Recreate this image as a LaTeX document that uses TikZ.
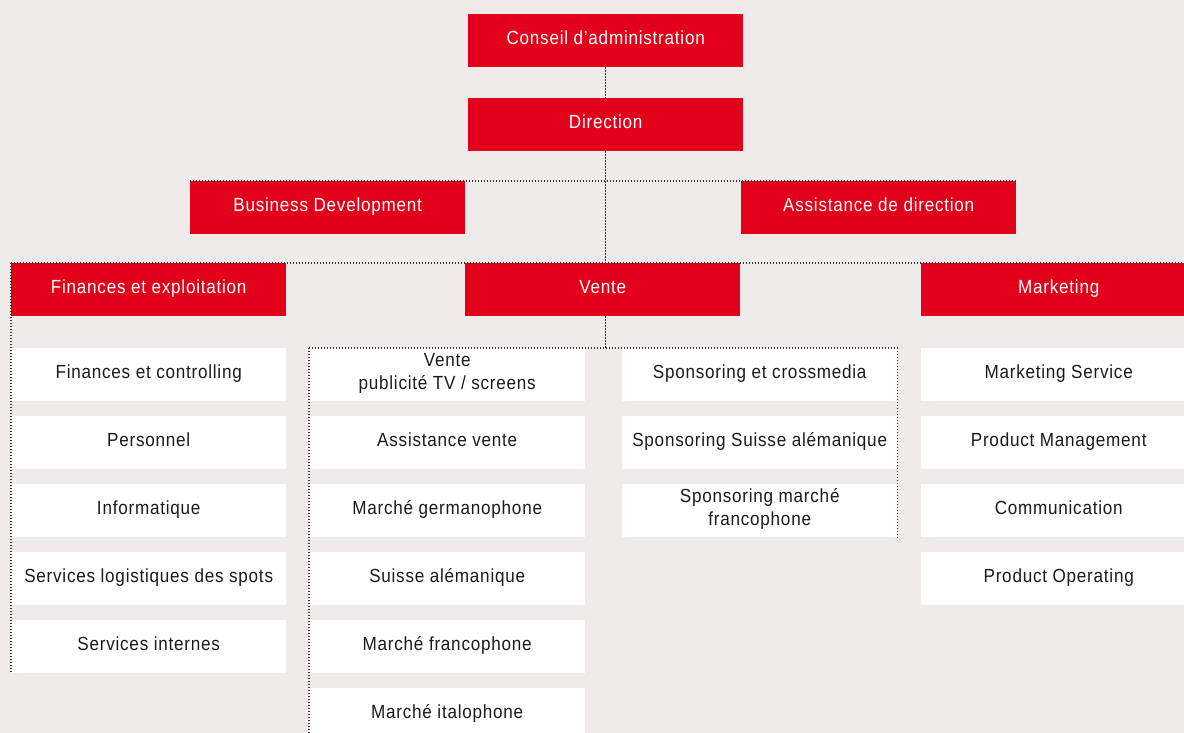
\documentclass[tikz,border=0pt]{standalone}
\usepackage{fontspec}
\setmainfont{Liberation Sans}[FakeStretch=0.9,LetterSpace=4]
\definecolor{bgc}{HTML}{EEEBEA}
\definecolor{brand}{HTML}{E2001A}
\definecolor{ink}{HTML}{1A1A1A}
\definecolor{dotc}{HTML}{333333}
\newcommand{\twoline}[2]{\raisebox{2pt}[\height][\depth]{\begin{tabular}{@{}c@{}}#1\\[-1pt]#2\end{tabular}}}
\tikzset{
  base/.style={anchor=north west, inner sep=0pt, minimum height=53pt, align=center,
    font=\fontsize{19}{24}\selectfont, minimum width=275pt},
  one/.style={text height=14pt, text depth=7pt},
  headbox/.style={base, one, fill=brand, text=white},
  cellbox/.style={base, fill=white, text=ink},
  dots/.style={draw=dotc, line width=1.5pt, dash pattern=on 1.3pt off 1.7pt}
}
\begin{document}
\begin{tikzpicture}[x=1pt,y=-1pt]
\fill[bgc] (0,0) rectangle (1184,733);
\useasboundingbox (0,0) rectangle (1184,733);

% top levels
\node[headbox] (conseil) at (468,14) {Conseil d’administration};
\node[headbox] (direction) at (468,98) {Direction};
\node[headbox] (bizdev) at (190,181) {Business Development};
\node[headbox] (assist) at (741,181) {Assistance de direction};

% departments
\node[headbox] (finances) at (11,263) {Finances et exploitation};
\node[headbox] (vente) at (465,263) {Vente};
\node[headbox] (marketing) at (921,263) {Marketing};

% Finances children
\node[cellbox, one] (f1) at (11,348) {Finances et controlling};
\node[cellbox, one] (f2) at (11,416) {Personnel};
\node[cellbox, one] (f3) at (11,484) {Informatique};
\node[cellbox, one] (f4) at (11,552) {Services logistiques des spots};
\node[cellbox, one] (f5) at (11,620) {Services internes};

% Vente children, column 1
\node[cellbox, minimum width=276pt] (va1) at (309,348) {\twoline{Vente}{publicité TV / screens}};
\node[cellbox, one, minimum width=276pt] (va2) at (309,416) {Assistance vente};
\node[cellbox, one, minimum width=276pt] (va3) at (309,484) {Marché germanophone};
\node[cellbox, one, minimum width=276pt] (va4) at (309,552) {Suisse alémanique};
\node[cellbox, one, minimum width=276pt] (va5) at (309,620) {Marché francophone};
\node[cellbox, one, minimum width=276pt] (va6) at (309,688) {Marché italophone};

% Vente children, column 2
\node[cellbox, one] (vb1) at (622,348) {Sponsoring et crossmedia};
\node[cellbox, one] (vb2) at (622,416) {Sponsoring Suisse alémanique};
\node[cellbox] (vb3) at (622,484) {\twoline{Sponsoring marché}{francophone}};

% Marketing children
\node[cellbox, one] (m1) at (921,348) {Marketing Service};
\node[cellbox, one] (m2) at (921,416) {Product Management};
\node[cellbox, one] (m3) at (921,484) {Communication};
\node[cellbox, one] (m4) at (921,552) {Product Operating};

% connectors
\draw[dots] (conseil.south) -- (direction.north);
\draw[dots] (direction.south) -- (direction.south |- vente.north);
\draw[dots] (bizdev.north west) -- (assist.north east);
\draw[dots] (finances.north west) -- (marketing.north east);
\draw[dots] (finances.north west) -- (finances.north west |- f5.south);
\draw[dots] (direction.south |- vente.south) -- (direction.south |- va1.north);
\draw[dots] (va1.north west) -- (vb1.north east);
\draw[dots] (va1.north west) -- (va1.north west |- va6.south);
\draw[dots] (vb1.north east) -- (vb3.south east);
\end{tikzpicture}
\end{document}
